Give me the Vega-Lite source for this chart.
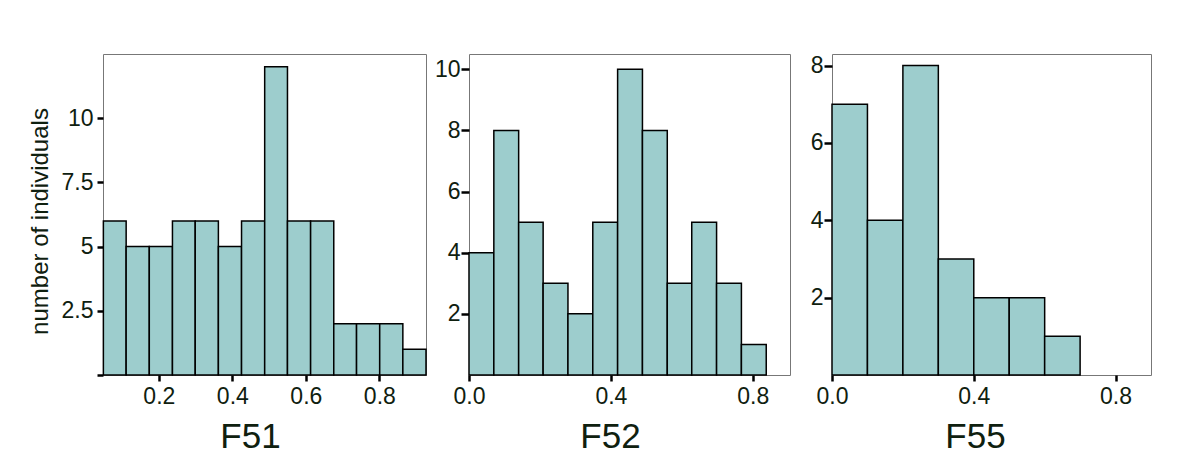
{
  "$schema": "https://vega.github.io/schema/vega-lite/v6.json",
  "background": "white",
  "padding": {"left": 27, "top": 53, "right": 5, "bottom": 5},
  "spacing": 4,
  "datasets": {
    "f51": [
      {"x0": 0.049, "x1": 0.111, "count": 6},
      {"x0": 0.111, "x1": 0.174, "count": 5},
      {"x0": 0.174, "x1": 0.237, "count": 5},
      {"x0": 0.237, "x1": 0.299, "count": 6},
      {"x0": 0.299, "x1": 0.362, "count": 6},
      {"x0": 0.362, "x1": 0.425, "count": 5},
      {"x0": 0.425, "x1": 0.488, "count": 6},
      {"x0": 0.488, "x1": 0.550, "count": 12},
      {"x0": 0.550, "x1": 0.613, "count": 6},
      {"x0": 0.613, "x1": 0.676, "count": 6},
      {"x0": 0.676, "x1": 0.738, "count": 2},
      {"x0": 0.738, "x1": 0.801, "count": 2},
      {"x0": 0.801, "x1": 0.864, "count": 2},
      {"x0": 0.864, "x1": 0.927, "count": 1}
    ],
    "f52": [
      {"x0": 0.000, "x1": 0.070, "count": 4},
      {"x0": 0.070, "x1": 0.140, "count": 8},
      {"x0": 0.140, "x1": 0.209, "count": 5},
      {"x0": 0.209, "x1": 0.279, "count": 3},
      {"x0": 0.279, "x1": 0.349, "count": 2},
      {"x0": 0.349, "x1": 0.419, "count": 5},
      {"x0": 0.419, "x1": 0.489, "count": 10},
      {"x0": 0.489, "x1": 0.559, "count": 8},
      {"x0": 0.559, "x1": 0.628, "count": 3},
      {"x0": 0.628, "x1": 0.698, "count": 5},
      {"x0": 0.698, "x1": 0.768, "count": 3},
      {"x0": 0.768, "x1": 0.838, "count": 1}
    ],
    "f55": [
      {"x0": 0.0, "x1": 0.1, "count": 7},
      {"x0": 0.1, "x1": 0.2, "count": 4},
      {"x0": 0.2, "x1": 0.3, "count": 8},
      {"x0": 0.3, "x1": 0.4, "count": 3},
      {"x0": 0.4, "x1": 0.5, "count": 2},
      {"x0": 0.5, "x1": 0.6, "count": 2},
      {"x0": 0.6, "x1": 0.7, "count": 1}
    ]
  },
  "hconcat": [
    {
      "data": {"name": "f51"},
      "width": 323,
      "height": 321,
      "mark": {"type": "bar", "fill": "#9dcdcd", "stroke": "#000000", "strokeWidth": 1.5},
      "encoding": {
        "x": {"field": "x0", "type": "quantitative",
              "scale": {"domain": [0.048, 0.927], "nice": false, "zero": false},
              "axis": {"title": "F51", "values": [0.2, 0.4, 0.6, 0.8], "format": ".1f",
                       "titleX": 147, "titleY": 72, "titleBaseline": "alphabetic"}},
        "x2": {"field": "x1"},
        "y": {"field": "count", "type": "quantitative",
              "scale": {"domain": [0, 12.5], "nice": false},
              "axis": {"title": "number of individuals", "values": [0, 2.5, 5, 7.5, 10],
                       "format": "~g", "labelExpr": "datum.value == 0 ? '' : datum.label",
                       "labelPadding": 4, "tickSize": 6,
                       "titleX": -56, "titleY": 167, "titleBaseline": "alphabetic",
                       "titleFontSize": 24}},
        "y2": {"datum": 0}
      }
    },
    {
      "data": {"name": "f52"},
      "width": 321,
      "height": 321,
      "mark": {"type": "bar", "fill": "#9dcdcd", "stroke": "#000000", "strokeWidth": 1.5},
      "encoding": {
        "x": {"field": "x0", "type": "quantitative",
              "scale": {"domain": [0, 0.905], "nice": false, "zero": false},
              "axis": {"title": "F52", "values": [0, 0.4, 0.8], "format": ".1f",
                       "titleX": 141, "titleY": 72, "titleBaseline": "alphabetic"}},
        "x2": {"field": "x1"},
        "y": {"field": "count", "type": "quantitative",
              "scale": {"domain": [0, 10.5], "nice": false},
              "axis": {"title": null, "values": [2, 4, 6, 8, 10], "format": "d",
                       "labelPadding": 1, "tickSize": 8, "minExtent": 36, "maxExtent": 36}},
        "y2": {"datum": 0}
      }
    },
    {
      "data": {"name": "f55"},
      "width": 319,
      "height": 321,
      "mark": {"type": "bar", "fill": "#9dcdcd", "stroke": "#000000", "strokeWidth": 1.5},
      "encoding": {
        "x": {"field": "x0", "type": "quantitative",
              "scale": {"domain": [0, 0.9], "nice": false, "zero": false},
              "axis": {"title": "F55", "values": [0, 0.4, 0.8], "format": ".1f",
                       "titleX": 143, "titleY": 72, "titleBaseline": "alphabetic"}},
        "x2": {"field": "x1"},
        "y": {"field": "count", "type": "quantitative",
              "scale": {"domain": [0, 8.3], "nice": false},
              "axis": {"title": null, "values": [2, 4, 6, 8], "format": "d",
                       "labelPadding": 1, "tickSize": 8, "minExtent": 36, "maxExtent": 36}},
        "y2": {"datum": 0}
      }
    }
  ],
  "config": {
    "font": "Liberation Sans",
    "view": {"stroke": "#777777", "strokeWidth": 1},
    "axis": {
      "grid": false,
      "domain": false,
      "tickColor": "#000000",
      "tickWidth": 2.5,
      "labelFont": "Liberation Sans",
      "labelFontSize": 23,
      "labelColor": "#0f200f",
      "labelFontWeight": "normal",
      "titleFont": "Liberation Sans",
      "titleFontWeight": "normal",
      "titleColor": "#0f200f"
    },
    "axisX": {"tickSize": 6, "labelPadding": 4, "titleFontSize": 35, "labelFlush": false},
    "axisY": {"labelFlush": false}
  }
}
